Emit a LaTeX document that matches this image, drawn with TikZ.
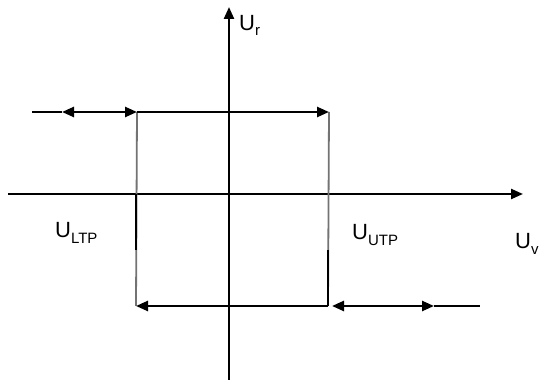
\documentclass[tikz,border=0pt]{standalone}
\usepackage{fontspec}
\setmainfont{Liberation Sans}
\usetikzlibrary{arrows.meta}
\begin{document}
\begin{tikzpicture}[x=1pt,y=-1pt,
  axis/.style={line width=2.3pt,black},
  hline/.style={line width=2.5pt,black},
  vline/.style={line width=1.8pt,black!55},
  thickseg/.style={line width=2.6pt,black},
  arr/.style={-{Triangle[length=12pt,width=10pt]}},
  lbl/.style={font=\fontsize{22}{22}\selectfont,inner sep=0pt,anchor=base west}]
\useasboundingbox (0,0) rectangle (542,382);
% coordinates
\coordinate (vb) at (229,380);
\coordinate (vt) at (229,7);
\coordinate (hl) at (8,194);
\coordinate (hr) at (523,194);
\coordinate (t0) at (32,112);
\coordinate (tl) at (62,112);
\coordinate (tm) at (100,112);
\coordinate (A) at (137,112);
\coordinate (B) at (329,112);
\coordinate (C) at (136,306);
\coordinate (D) at (328,306);
\coordinate (Dp) at (332,306);
\coordinate (bm) at (400,306);
\coordinate (br) at (434,306);
\coordinate (E) at (480,306);
% axes
\draw[axis,arr] (vb) -- (vt);
\draw[axis,arr] (hl) -- (hr);
\draw[thickseg] (229,112) -- (229,194);
\draw[thickseg] (229,342) -- (229,372);
% rectangle verticals
\draw[vline] (A) -- (C);
\draw[vline] (B) -- (D);
\draw[thickseg] (136,194) -- (136,250);
\draw[thickseg] (328,250) -- (328,306);
% top line
\draw[hline] (t0) -- (tl);
\draw[hline,arr] (tm) -- (tl);
\draw[hline,arr] (tm) -- (A);
\draw[hline,arr] (A) -- (B);
% bottom line
\draw[hline,arr] (D) -- (C);
\draw[hline,arr] (bm) -- (Dp);
\draw[hline,arr] (bm) -- (br);
\draw[hline] (br) -- (E);
% labels
\node[lbl] (ur) at (239,31) {U\raisebox{-0.2em}{\fontsize{15}{15}\selectfont r}};
\node[lbl] (ultp) at (55,238) {U\raisebox{-0.25em}{\fontsize{15}{15}\selectfont LTP}};
\node[lbl] (uutp) at (352,240) {U\raisebox{-0.25em}{\fontsize{15}{15}\selectfont UTP}};
\node[lbl] (uv) at (515,249) {U\raisebox{-0.25em}{\fontsize{15}{15}\selectfont v}};
\end{tikzpicture}
\end{document}
